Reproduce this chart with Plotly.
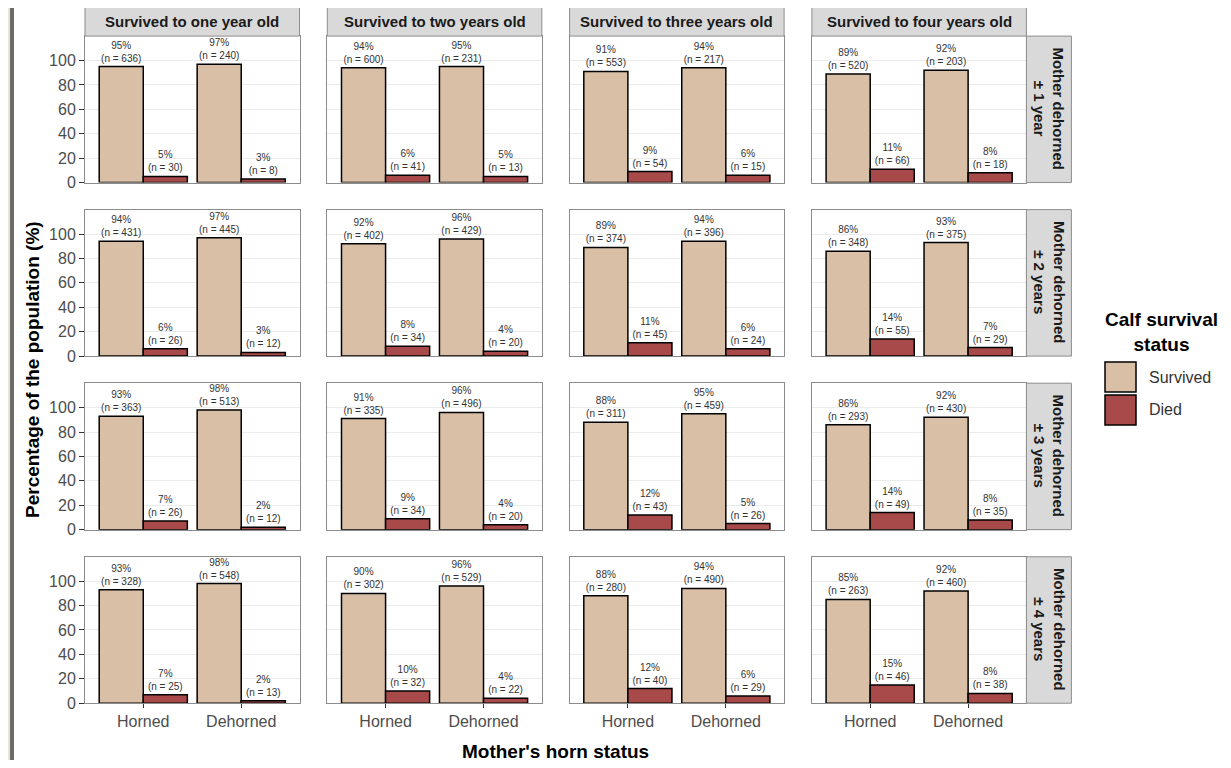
import plotly.graph_objects as go

# page has an 8px body margin; the captured page is slightly compressed vertically
OFF = 8
SY = 768 / 777
W, H = 1231 - 2 * OFF, 761

horn_status = ["Horned", "Dehorned"]
survival_status = ["Survived", "Died"]
age_labels = ["Survived to one year old", "Survived to two years old",
              "Survived to three years old", "Survived to four years old"]
window_labels = ["Mother dehorned<br>± 1 year", "Mother dehorned<br>± 2 years",
                 "Mother dehorned<br>± 3 years", "Mother dehorned<br>± 4 years"]
y_ticks = [0, 20, 40, 60, 80, 100]

# [row = dehorning window][col = age] -> [Horned, Dehorned]
survived_pct = [
    [[95, 97], [94, 95], [91, 94], [89, 92]],
    [[94, 97], [92, 96], [89, 94], [86, 93]],
    [[93, 98], [91, 96], [88, 95], [86, 92]],
    [[93, 98], [90, 96], [88, 94], [85, 92]],
]
survived_n = [
    [[636, 240], [600, 231], [553, 217], [520, 203]],
    [[431, 445], [402, 429], [374, 396], [348, 375]],
    [[363, 513], [335, 496], [311, 459], [293, 430]],
    [[328, 548], [302, 529], [280, 490], [263, 460]],
]
died_pct = [
    [[5, 3], [6, 5], [9, 6], [11, 8]],
    [[6, 3], [8, 4], [11, 6], [14, 7]],
    [[7, 2], [9, 4], [12, 5], [14, 8]],
    [[7, 2], [10, 4], [12, 6], [15, 8]],
]
died_n = [
    [[30, 8], [41, 13], [54, 15], [66, 18]],
    [[26, 12], [34, 20], [45, 24], [55, 29]],
    [[26, 12], [34, 20], [43, 26], [49, 35]],
    [[25, 13], [32, 22], [40, 29], [46, 38]],
]

colors = {"Survived": "#d9bfa6", "Died": "#a94a4a"}
FONT = "Liberation Sans, Arial, sans-serif"


def px_x(v):
    return (v - OFF) / W


def px_y(v):
    return 1 - (v / SY - OFF) / H


col_x0 = [85 + i * 242.3 for i in range(4)]
col_w = 214.5
row_y0 = [36 + j * 173.6 for j in range(4)]
row_h = 146.5

fig = go.Figure()
layout = {}
shapes = []
annotations = []

for r in range(4):
    for c in range(4):
        k = r * 4 + c + 1
        xa = "x" if k == 1 else f"x{k}"
        ya = "y" if k == 1 else f"y{k}"
        for status, pcts, ns in (("Survived", survived_pct, survived_n),
                                 ("Died", died_pct, died_n)):
            vals = pcts[r][c]
            cnt = ns[r][c]
            labels = [f"{v}%<br>(n = {n})" for v, n in zip(vals, cnt)]
            fig.add_trace(go.Bar(
                x=horn_status, y=vals, name=status, text=labels,
                textposition="outside", constraintext="none", cliponaxis=False,
                textfont=dict(size=10, color="#333333", family=FONT),
                marker=dict(color=colors[status], line=dict(color="black", width=1.5)),
                xaxis=xa, yaxis=ya, showlegend=False, offsetgroup=status,
            ))
        x0, x1 = col_x0[c], col_x0[c] + col_w
        y0, y1 = row_y0[r], row_y0[r] + row_h
        layout[f"xaxis{'' if k == 1 else k}"] = dict(
            domain=[px_x(x0), px_x(x1)], anchor=ya, type="category",
            categoryorder="array", categoryarray=horn_status,
            range=[-0.595, 1.595], showgrid=False, zeroline=False,
            showline=True, mirror=True, linecolor="#8c8c8c", linewidth=1,
            ticks="outside" if r == 3 else "", ticklen=4, tickcolor="#333333",
            showticklabels=(r == 3),
            tickfont=dict(size=16, color="#4d4d4d", family=FONT),
        )
        layout[f"yaxis{'' if k == 1 else k}"] = dict(
            domain=[px_y(y1), px_y(y0)], anchor=xa, range=[0, 120],
            tickvals=y_ticks, showgrid=True, gridcolor="#ebebeb", gridwidth=1,
            zeroline=False, showline=True, mirror=True, linecolor="#8c8c8c",
            linewidth=1, ticks="outside" if c == 0 else "", ticklen=5,
            tickcolor="#333333", showticklabels=(c == 0),
            tickfont=dict(size=16, color="#4d4d4d", family=FONT),
        )

# column strips
for c in range(4):
    x0, x1 = col_x0[c], col_x0[c] + col_w
    shapes.append(dict(type="rect", xref="paper", yref="paper",
                       x0=px_x(x0), x1=px_x(x1), y0=px_y(36), y1=px_y(5),
                       fillcolor="#d9d9d9", line=dict(color="#8c8c8c", width=1)))
    annotations.append(dict(xref="paper", yref="paper", x=px_x((x0 + x1) / 2),
                            y=px_y(21), xanchor="center", yanchor="middle",
                            text=f"<b>{age_labels[c]}</b>",
                            showarrow=False, font=dict(size=15, color="#1a1a1a", family=FONT)))
# row strips
sx0 = col_x0[3] + col_w
sx1 = sx0 + 45
for r in range(4):
    y0, y1 = row_y0[r], row_y0[r] + row_h
    shapes.append(dict(type="rect", xref="paper", yref="paper",
                       x0=px_x(sx0), x1=px_x(sx1), y0=px_y(y1), y1=px_y(y0),
                       fillcolor="#d9d9d9", line=dict(color="#8c8c8c", width=1)))
    annotations.append(dict(xref="paper", yref="paper", x=px_x((sx0 + sx1) / 2),
                            y=px_y((y0 + y1) / 2), xanchor="center", yanchor="middle",
                            text=f"<b>{window_labels[r]}</b>",
                            textangle=90, showarrow=False,
                            font=dict(size=15, color="#1a1a1a", family=FONT)))

# axis titles
annotations.append(dict(xref="paper", yref="paper", x=px_x(32), y=px_y(370),
                        xanchor="center", yanchor="middle",
                        text="<b>Percentage of the population (%)</b>", textangle=-90,
                        showarrow=False, font=dict(size=19, color="black", family=FONT)))
annotations.append(dict(xref="paper", yref="paper", x=px_x(555), y=px_y(752),
                        xanchor="center", yanchor="middle",
                        text="<b>Mother's horn status</b>",
                        showarrow=False, font=dict(size=19, color="black", family=FONT)))

# legend (drawn manually)
annotations.append(dict(xref="paper", yref="paper", x=px_x(1161), y=px_y(332),
                        xanchor="center", yanchor="middle",
                        text="<b>Calf survival<br>status</b>", align="center",
                        showarrow=False, font=dict(size=19, color="black", family=FONT)))
for i, status in enumerate(survival_status):
    ky0 = 362 + i * 33
    shapes.append(dict(type="rect", xref="paper", yref="paper",
                       x0=px_x(1105), x1=px_x(1136), y0=px_y(ky0 + 30), y1=px_y(ky0),
                       fillcolor=colors[status], line=dict(color="black", width=1.5)))
    annotations.append(dict(xref="paper", yref="paper", x=px_x(1147), y=px_y(ky0 + 15),
                            xanchor="left", yanchor="middle", text=status, showarrow=False,
                            font=dict(size=16, color="#333333", family=FONT)))

# left window edge
shapes.append(dict(type="rect", xref="paper", yref="paper", x0=0, x1=px_x(10),
                   y0=0, y1=1, fillcolor="#e8e4dd", line=dict(width=0), layer="below"))
shapes.append(dict(type="rect", xref="paper", yref="paper", x0=px_x(10), x1=px_x(14),
                   y0=0, y1=1, fillcolor="#6e6a66", line=dict(width=0), layer="below"))

fig.update_layout(
    width=W, height=H, autosize=False,
    margin=dict(l=0, r=0, t=0, b=0),
    paper_bgcolor="white", plot_bgcolor="white",
    barmode="group", bargap=0.1, bargroupgap=0,
    showlegend=False, font=dict(family=FONT),
    shapes=shapes, annotations=annotations, **layout,
)

fig.write_html("out.html")
